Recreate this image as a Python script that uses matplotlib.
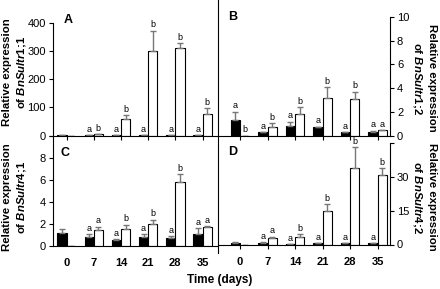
import numpy as np
import matplotlib
matplotlib.use('Agg')
import matplotlib.pyplot as plt
from matplotlib.lines import Line2D

plt.rcParams['font.family'] = ['Liberation Sans', 'DejaVu Sans']
plt.rcParams['mathtext.fontset'] = 'custom'
plt.rcParams['mathtext.it'] = 'Liberation Sans:italic:bold'
plt.rcParams['mathtext.rm'] = 'Liberation Sans:bold'

# data
days = ['0', '7', '14', '21', '28', '35']
nan = np.nan

# A - BnSultr1;1
a_ctrl = [2, 2, 2, 1, 1, 1]
a_ctrl_err = [0, 0, 0, 0, 0, 0]
a_treat = [nan, 4, 57, 300, 310, 75]
a_treat_err = [0, 0, 16, 72, 18, 21]
a_ctrl_lab = ['', 'a', 'a', 'a', 'a', 'a']
a_treat_lab = ['', 'b', 'b', 'b', 'b', 'b']

# B - BnSultr1;2
b_ctrl = [1.28, 0.3, 0.78, 0.7, 0.3, 0.3]
b_ctrl_err = [0.72, 0, 0.37, 0.05, 0, 0.12]
b_treat = [0, 0.7, 1.82, 3.15, 3.07, 0.45]
b_treat_err = [0, 0.36, 0.58, 0.93, 0.63, 0]
b_ctrl_lab = ['a', 'a', 'a', 'a', 'a', 'a']
b_treat_lab = ['b', 'b', 'b', 'b', 'b', 'a']

# C - BnSultr4;1
c_ctrl = [1.15, 0.79, 0.46, 0.82, 0.7, 1.06]
c_ctrl_err = [0.35, 0.27, 0.14, 0.24, 0.15, 0.54]
c_treat = [nan, 1.4, 1.52, 1.98, 5.8, 1.7]
c_treat_err = [0, 0.3, 0.38, 0.39, 0.73, 0.06]
c_ctrl_lab = ['', 'a', 'a', 'a', 'a', 'a']
c_treat_lab = ['', 'a', 'b', 'b', 'b', 'a']

# D - BnSultr4;2
d_ctrl = [0.75, 0.75, 0.15, 0.45, 0.45, 0.45]
d_ctrl_err = [0.2, 0.2, 0, 0, 0, 0]
d_treat = [nan, 3.0, 3.4, 14.7, 33.7, 30.7]
d_treat_err = [0, 0.4, 1.1, 3.3, 9.5, 3.0]
d_ctrl_lab = ['', 'a', 'a', 'a', 'a', 'a']
d_treat_lab = ['', 'a', 'b', 'b', 'b', 'b']

W, H = 440, 289
fig = plt.figure(figsize=(W / 100, H / 100), dpi=100)


def add_axes(x0, x1, ytop, ybot):
    # pixel box -> figure fraction
    return fig.add_axes([x0 / W, (H - ybot) / H, (x1 - x0) / W, (ybot - ytop) / H])


def draw_panel(ax, ctrl, ctrl_err, treat, treat_err, ctrl_lab, treat_lab, side, off=0.17, w=0.34):
    x = np.arange(len(days))
    ax.bar(x - off, ctrl, w, color='black', edgecolor='black', linewidth=0.8)
    ax.bar(x + off, treat, w, color='white', edgecolor='black', linewidth=0.8)
    ax.errorbar(x - off, ctrl, yerr=[np.zeros(len(x)), ctrl_err], fmt='none',
                ecolor='#777777', elinewidth=1, capsize=2, capthick=1)
    t = np.nan_to_num(np.array(treat, dtype=float))
    ax.errorbar(x + off, t, yerr=[np.zeros(len(x)), treat_err], fmt='none',
                ecolor='#777777', elinewidth=1, capsize=2, capthick=1)
    for i in range(len(x)):
        top = ctrl[i] + ctrl_err[i]
        if ctrl_lab[i]:
            ax.annotate(ctrl_lab[i], (x[i] - off, top), xytext=(0, 1), textcoords='offset points',
                        ha='center', va='bottom', fontsize=6.5, annotation_clip=False)
        top = t[i] + treat_err[i]
        if treat_lab[i]:
            ax.annotate(treat_lab[i], (x[i] + off, top), xytext=(0, 1), textcoords='offset points',
                        ha='center', va='bottom', fontsize=6.5, annotation_clip=False)
    ax.spines['top'].set_visible(False)
    if side == 'left':
        ax.spines['right'].set_visible(False)
    else:
        ax.spines['left'].set_visible(False)
        ax.yaxis.tick_right()
    for s in ax.spines.values():
        s.set_linewidth(0.8)
    ax.set_xticks(x)
    ax.tick_params(axis='both', labelsize=8, length=3, width=0.8, pad=2)
    ax.patch.set_alpha(0)


# left column
axA = add_axes(53, 218, 23, 135.5)
draw_panel(axA, a_ctrl, a_ctrl_err, a_treat, a_treat_err, a_ctrl_lab, a_treat_lab, 'left')
axA.set_xlim(-0.5, 5.57)
axA.set_ylim(0, 400)
axA.set_yticks([0, 100, 200, 300, 400])
axA.set_xticklabels([])

axC = add_axes(53, 218, 136, 245.5)
draw_panel(axC, c_ctrl, c_ctrl_err, c_treat, c_treat_err, c_ctrl_lab, c_treat_lab, 'left')
axC.set_xlim(-0.5, 5.57)
axC.set_ylim(0, 10)
axC.set_yticks([0, 2, 4, 6, 8, 10])
axC.set_yticklabels(['0', '2', '4', '6', '8', ''])
axC.set_xticklabels(days, fontweight='bold')
axC.tick_params(axis='x', length=0, pad=9)

# right column
axB = add_axes(218, 390, 17, 135.5)
draw_panel(axB, b_ctrl, b_ctrl_err, b_treat, b_treat_err, b_ctrl_lab, b_treat_lab, 'right')
axB.set_xlim(-0.8, 5.45)
axB.set_ylim(0, 10)
axB.set_yticks([0, 2, 4, 6, 8, 10])
axB.set_xticklabels([])

axD = add_axes(218, 390, 143, 244.5)
draw_panel(axD, d_ctrl, d_ctrl_err, d_treat, d_treat_err, d_ctrl_lab, d_treat_lab, 'right')
axD.set_xlim(-0.8, 5.45)
axD.set_ylim(0, 45)
axD.set_yticks([0, 15, 30, 45])
axD.set_yticklabels(['0', '15', '30', ''])
axD.set_xticklabels(days, fontweight='bold')
axD.tick_params(axis='x', pad=6)

# divider between columns
fig.add_artist(Line2D([218 / W, 218 / W], [1, (H - 253) / H], color='black', linewidth=0.8))

# panel letters
for lab, px, py in [('A', 68, 20), ('B', 233, 17), ('C', 65, 153), ('D', 233, 152)]:
    fig.text(px / W, 1 - py / H, lab, fontsize=9, fontweight='bold', ha='center', va='center')


def gene_label(name):
    # semicolon kept outside mathtext so it gets no extra space
    left, right = name.split(';')
    return 'Relative expression\nof $\\mathit{' + left + '}$;$\\mathit{' + right + '}$'


# axis titles
fig.text(15 / W, 1 - 72 / H, gene_label('BnSultr1;1'), rotation=90, linespacing=1.25,
         fontsize=8.2, fontweight='bold', ha='center', va='center', multialignment='center')
fig.text(15 / W, 1 - 197 / H, gene_label('BnSultr4;1'), rotation=90, linespacing=1.25,
         fontsize=8.2, fontweight='bold', ha='center', va='center', multialignment='center')
fig.text(424 / W, 1 - 78 / H, gene_label('BnSultr1;2'), rotation=-90, linespacing=1.25,
         fontsize=8.2, fontweight='bold', ha='center', va='center', multialignment='center')
fig.text(424 / W, 1 - 197 / H, gene_label('BnSultr4;2'), rotation=-90, linespacing=1.25,
         fontsize=8.2, fontweight='bold', ha='center', va='center', multialignment='center')
fig.text(220 / W, 1 - 280 / H, 'Time (days)', fontsize=8.5, fontweight='bold', ha='center', va='center')

fig.savefig('out.png', dpi=100)
